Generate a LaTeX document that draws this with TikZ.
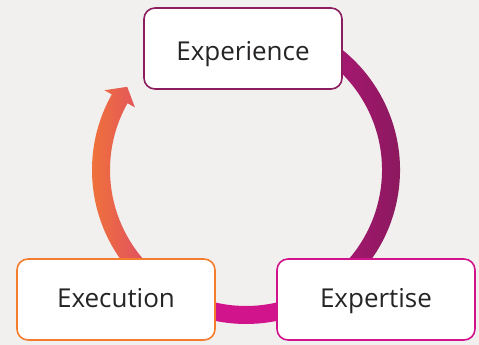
\documentclass[tikz,border=0pt]{standalone}
\usepackage{fontspec}
\setmainfont{Open Sans}
\usetikzlibrary{calc}

\definecolor{bgcol}{RGB}{241,240,238}
\definecolor{plum}{RGB}{140,29,94}
\definecolor{berry}{RGB}{196,22,134}
\definecolor{darkberry}{RGB}{134,25,90}
\definecolor{fuchsia}{RGB}{210,20,140}
\definecolor{tangerine}{RGB}{244,124,46}
\definecolor{rose}{RGB}{220,70,110}
\definecolor{ink}{RGB}{38,36,36}

\begin{document}
\begin{tikzpicture}[x=1pt, y=1pt,
    stage/.style={draw, line width=1.6pt, fill=white, rounded corners=11pt,
        minimum width=198pt, minimum height=81pt, text=ink,
        text height=17pt, text depth=0pt,
        font=\fontsize{26}{30}\selectfont}]

    % Background
    \fill[bgcol] (0,0) rectangle (479,345);
    \useasboundingbox (0,0) rectangle (479,345);

    % Ring centre
    \coordinate (ring) at (246,175);

    % Right arc (Experience to Expertise)
    \shade[left color=berry, right color=darkberry]
        ($(ring)+(80:154)$) arc[start angle=80, end angle=-60, radius=154]
        -- ($(ring)+(-60:136)$) arc[start angle=-60, end angle=80, radius=136] -- cycle;

    % Bottom arc (Expertise to Execution)
    \fill[fuchsia]
        ($(ring)+(-55:154)$) arc[start angle=-55, end angle=-125, radius=154]
        -- ($(ring)+(-125:136)$) arc[start angle=-125, end angle=-55, radius=136] -- cycle;

    % Left arc with its head (Execution to Experience)
    \shade[left color=tangerine, right color=rose]
        ($(ring)+(232:154)$) arc[start angle=232, end angle=150.6, radius=154]
        -- ($(ring)+(150.6:162.5)$) -- ($(ring)+(145:145)$) -- ($(ring)+(150.6:127.5)$)
        -- ($(ring)+(150.6:136)$) arc[start angle=150.6, end angle=232, radius=136] -- cycle;

    % Boxes
    \node[stage, draw=plum, text height=25pt] (experience) at (243,296.5) {Experience};
    \node[stage, draw=fuchsia] (expertise) at (376,45.5) {Expertise};
    \node[stage, draw=tangerine] (execution) at (116,45.5) {Execution};

\end{tikzpicture}
\end{document}
